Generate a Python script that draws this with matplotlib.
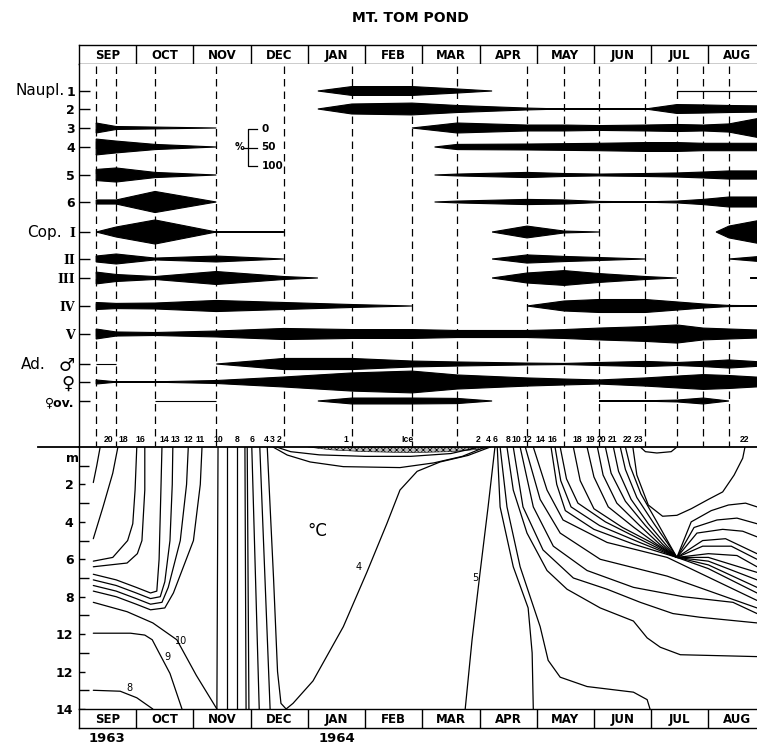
import numpy as np
import matplotlib.pyplot as plt

plt.rcParams['font.family'] = ['DejaVu Sans']
plt.rcParams['hatch.linewidth'] = 0.5

nan = np.nan

months = ['SEP', 'OCT', 'NOV', 'DEC', 'JAN', 'FEB', 'MAR', 'APR', 'MAY', 'JUN', 'JUL', 'AUG']

# sampling dates in months after 1 Sep 1963 (last one is past the right edge)
dates = [0.30, 0.65, 1.33, 2.40, 3.58, 4.77, 5.82, 6.61, 7.83, 8.48, 9.09,
         9.90, 10.45, 10.91, 11.36, 12.10]

# % of each stage per date, nan = absent, 0 = only traces
naupl1 = [nan, nan, nan, nan, nan, 24, 24, 11, nan, nan, nan, nan, 0, 0, 0, 0]
naupl2 = [nan, nan, nan, nan, nan, 27, 32, 19, 5, 0, 0, 0, 24, 22, 19, 16]
naupl3 = [27, 8, 5, 0, nan, nan, 0, 27, 16, 16, 13, 16, 19, 16, 22, 65]
naupl4 = [43, 32, 14, 0, nan, nan, nan, 14, 16, 18, 20, 24, 24, 20, 20, 20]
naupl5 = [30, 38, 14, 0, nan, nan, nan, 5, 14, 8, 5, 8, 11, 16, 22, 22]
naupl6 = [11, 11, 57, 0, nan, nan, nan, 5, 14, 11, 3, 1, 5, 14, 27, 27]
cop1 = [0, 27, 65, 0, 0, nan, nan, nan, 32, 5, 0, nan, nan, nan, 32, 75]
cop2 = [16, 27, 5, 16, 0, nan, nan, nan, 22, 14, 8, 0, nan, nan, 0, 19]
cop3 = [32, 19, 8, 35, 8, nan, nan, nan, 27, 40, 24, 8, 0, nan, nan, 3]
cop4 = [19, 14, 16, 30, 19, 8, 0, nan, 0, 27, 35, 35, 22, 11, 3, 1]
cop5 = [27, 11, 8, 16, 30, 24, 24, 19, 19, 24, 32, 40, 49, 32, 27, 19]
males = [0, 0, nan, 0, 30, 30, 16, 11, 5, 3, 8, 14, 8, 14, 22, 8]
females = [11, 1, 1, 8, 27, 49, 59, 38, 22, 16, 11, 22, 32, 40, 35, 22]
fem_ov = [nan, nan, 0, 0, nan, 16, 16, 14, nan, nan, 0, 1, 5, 16, 0, nan]

stages = [naupl1, naupl2, naupl3, naupl4, naupl5, naupl6, cop1, cop2, cop3,
          cop4, cop5, males, females, fem_ov]
stage_labels = ['1', '2', '3', '4', '5', '6', 'I', 'II', 'III', 'IV', 'V',
                '♂', '♀', '♀ov.']

# isotherms: (label, months, depth in m)
isotherms = [
    (20, [0.25, 0.31, 0.37], [1.9, 1.0, 0.0]),
    (18, [0.25, 0.42, 0.59, 0.68], [4.9, 3.2, 1.4, 0.0]),
    (16, [0.25, 0.59, 0.85, 0.94, 0.98, 1.01], [6.1, 5.9, 5.0, 4.1, 2.3, 0.0]),
    (14, [0.25, 0.84, 1.02, 1.10, 1.15, 1.15], [6.4, 6.2, 5.7, 5.0, 2.3, 0.0]),
    (13, [0.25, 0.65, 1.00, 1.25, 1.36, 1.40, 1.43, 1.45],
     [6.8, 7.1, 7.5, 7.8, 7.7, 6.0, 2.5, 0.0]),
    (12, [0.25, 0.65, 1.00, 1.25, 1.42, 1.50, 1.59, 1.63, 1.64],
     [7.1, 7.4, 7.8, 8.1, 8.0, 7.2, 5.0, 2.0, 0.0]),
    (11, [0.25, 0.65, 1.00, 1.25, 1.45, 1.56, 1.77, 1.88, 1.91],
     [7.4, 7.7, 8.1, 8.4, 8.3, 7.5, 5.0, 2.0, 0.0]),
    (11, [0.25, 0.65, 1.00, 1.25, 1.50, 1.65, 2.00, 2.12, 2.15],
     [7.7, 8.0, 8.4, 8.7, 8.6, 7.8, 5.0, 2.0, 0.0]),
    (10, [0.25, 0.84, 1.29, 1.71, 2.05, 2.41], [8.3, 8.8, 9.4, 10.3, 12.2, 14.0]),
    (9, [0.25, 0.90, 1.15, 1.28, 1.40, 1.59, 1.80],
     [9.95, 9.95, 10.05, 10.3, 11.0, 12.1, 14.0]),
    (8, [0.25, 0.72, 1.01, 1.29], [13.0, 13.05, 13.4, 14.0]),
    (10, [2.43, 2.41], [0.0, 14.0]),
    (9, [2.59, 2.59], [0.0, 14.0]),
    (8, [2.76, 2.76], [0.0, 14.0]),
    (7, [2.90, 2.92], [0.0, 14.0]),
    (7, [2.94, 2.97], [0.0, 14.0]),
    (6, [3.02, 3.15], [0.0, 14.0]),
    (5, [3.16, 3.34], [0.0, 14.0]),
    (4, [3.29, 3.40, 3.47, 3.53, 3.62, 3.74, 4.09, 4.62, 5.03, 5.38, 5.61,
         5.91, 6.31, 6.80, 7.19],
     [0.0, 7.0, 12.0, 13.7, 14.0, 13.7, 12.5, 9.6, 6.7, 4.1, 2.3, 1.3, 0.8,
      0.45, 0.0]),
    (3, [3.39, 3.64, 4.04, 4.62, 5.61, 6.20, 6.70, 7.10],
     [0.0, 0.43, 0.8, 1.05, 1.1, 0.85, 0.5, 0.0]),
    (2, [3.45, 3.70, 4.20, 5.00, 5.80, 6.50, 7.00],
     [0.0, 0.25, 0.42, 0.5, 0.5, 0.35, 0.0]),
    (5, [7.27, 7.15, 7.01, 6.87, 6.75], [0.0, 3.2, 6.7, 10.3, 14.0]),
    (6, [7.31, 7.36, 7.59, 7.85, 7.92, 7.94], [0.0, 3.2, 6.4, 8.6, 11.0, 14.0]),
    (8, [7.36, 7.48, 7.71, 8.06, 8.20, 8.41, 8.88, 9.69, 9.93, 9.98],
     [0.0, 3.2, 6.4, 9.6, 11.4, 12.3, 12.8, 13.1, 13.5, 14.0]),
    (10, [7.48, 7.59, 7.83, 8.18, 8.53, 9.11, 9.69, 9.93, 10.16, 10.51, 11.85],
     [0.0, 2.3, 4.6, 6.6, 7.6, 8.6, 9.3, 10.2, 10.7, 11.1, 11.2]),
    (12, [7.59, 7.76, 8.11, 8.64, 9.23, 9.81, 10.38, 10.86, 11.85],
     [0.0, 3.2, 5.5, 7.0, 7.6, 8.3, 8.9, 9.1, 9.4]),
    (14, [7.71, 7.94, 8.29, 8.88, 9.69, 10.56, 11.43, 11.85],
     [0.0, 3.2, 5.3, 6.6, 7.5, 8.0, 8.3, 8.9]),
    (15, [7.80, 8.06, 8.41, 9.11, 10.28, 11.85], [0.0, 2.8, 4.6, 6.0, 6.9, 8.6]),
    (16, [7.94, 8.18, 8.46, 9.23, 10.28, 11.85], [0.0, 2.3, 3.9, 5.1, 5.9, 8.2]),
    (17, [8.25, 8.35, 8.50, 9.00, 9.70, 10.45, 11.00, 11.85],
     [0.0, 2.0, 3.4, 4.4, 5.2, 5.9, 6.5, 7.8]),
    (17, [8.32, 8.42, 8.60, 9.10, 9.80, 10.45, 11.00, 11.85],
     [0.0, 1.8, 3.2, 4.2, 5.1, 5.9, 6.3, 7.5]),
    (18, [8.41, 8.52, 8.72, 9.20, 9.85, 10.45, 11.00, 11.85],
     [0.0, 1.7, 3.0, 4.0, 5.0, 5.9, 6.1, 7.1]),
    (18, [8.64, 8.76, 9.00, 9.50, 10.00, 10.45, 11.00, 11.85],
     [0.0, 1.8, 3.3, 4.3, 5.1, 5.9, 5.9, 6.7]),
    (19, [8.88, 9.00, 9.25, 9.70, 10.10, 10.45, 11.00, 11.50, 11.85],
     [0.0, 1.6, 3.2, 4.3, 5.2, 5.9, 5.7, 5.8, 6.4]),
    (20, [9.06, 9.16, 9.40, 9.80, 10.15, 10.45, 10.90, 11.40, 11.85],
     [0.0, 1.5, 3.0, 4.2, 5.2, 5.9, 5.3, 5.3, 6.0]),
    (20, [9.20, 9.30, 9.55, 9.90, 10.20, 10.45, 10.90, 11.30, 11.85],
     [0.0, 1.4, 2.9, 4.2, 5.2, 5.9, 5.0, 4.9, 5.7]),
    (21, [9.34, 9.43, 9.65, 9.95, 10.25, 10.45, 10.80, 11.25, 11.60, 11.85],
     [0.0, 1.3, 2.8, 4.1, 5.2, 5.9, 4.6, 4.4, 4.5, 4.8]),
    (21, [9.46, 9.55, 9.75, 10.05, 10.30, 10.45, 10.75, 11.15, 11.50, 11.85],
     [0.0, 1.2, 2.7, 4.1, 5.2, 5.9, 4.3, 3.9, 3.8, 4.1]),
    (22, [9.55, 9.63, 9.82, 10.10, 10.32, 10.45, 10.70, 11.05, 11.35, 11.65, 11.85],
     [0.0, 1.0, 2.5, 4.0, 5.2, 5.9, 4.0, 3.4, 3.1, 3.0, 3.2]),
    (22, [9.68, 9.75, 9.95, 10.20, 10.45, 10.70, 11.00, 11.25, 11.45, 11.60, 11.64],
     [0.0, 1.5, 3.1, 3.7, 3.65, 3.3, 2.8, 2.4, 1.5, 0.6, 0.0]),
    (23, [9.81, 9.90, 10.10, 10.35, 10.45], [0.0, 0.25, 0.32, 0.25, 0.0]),
]

# ice cover, months and thickness in m
ice_x = [4.0, 4.4, 5.0, 5.8, 6.5, 7.0, 7.2]
ice_d = [0.0, 0.15, 0.25, 0.3, 0.25, 0.12, 0.0]

# temperatures where isotherms meet the surface
surf_labels = ['20', '18', '16', '14', '13', '12', '11', '10', '8', '6', '4', '3',
               '2', '1', 'Ice', '2', '4', '6', '8', '10', '12', '14', '16', '18',
               '19', '20', '21', '22', '23', '22']
surf_x = [0.51, 0.77, 1.07, 1.49, 1.68, 1.91, 2.12, 2.43, 2.76, 3.02, 3.27,
          3.38, 3.49, 4.67, 5.75, 6.98, 7.15, 7.27, 7.50, 7.64, 7.83, 8.06,
          8.27, 8.71, 8.93, 9.14, 9.32, 9.58, 9.78, 11.64]

W, H = 757, 747
XMAX = 11.85
SCALE = 0.185   # half width (px) per percent


def box(x0, y0, x1, y1):
    return [x0 / W, 1 - y1 / H, (x1 - x0) / W, (y1 - y0) / H]


def kite(ax, y0, vals):
    pieces, cur = [], []
    for i, v in enumerate(vals):
        if np.isnan(v):
            if cur:
                if vals[i - 1] > 0:
                    cur.append(((dates[i - 1] + dates[i]) / 2, 0))
                pieces.append(cur)
                cur = []
            continue
        if not cur and i > 0 and v > 0:
            cur.append(((dates[i - 1] + dates[i]) / 2, 0))
        cur.append((dates[i], v))
    if cur:
        pieces.append(cur)
    for p in pieces:
        xs = np.array([q[0] for q in p])
        hs = np.array([q[1] for q in p]) * SCALE
        ax.fill(np.r_[xs, xs[::-1]], np.r_[y0 - hs, (y0 + hs)[::-1]],
                facecolor='black', edgecolor='black', lw=0.8, zorder=3)


def month_strip(ax):
    ax.set_xlim(0, XMAX)
    ax.set_ylim(0, 1)
    ax.set_xticks([])
    ax.set_yticks([])
    ax.spines['right'].set_visible(False)
    for s in ['left', 'top', 'bottom']:
        ax.spines[s].set_linewidth(1.0)
    for i, m in enumerate(months):
        if i > 0:
            ax.axvline(i, color='black', lw=1.0)
        ax.text(i + 0.5, 0.45, m, ha='center', va='center', fontsize=8.5,
                fontweight='bold')


fig = plt.figure(figsize=(W / 100, H / 100), dpi=100)

ax_top = fig.add_axes(box(79, 45, 757, 64))
ax_up = fig.add_axes(box(79, 64, 757, 447))
ax_low = fig.add_axes(box(79, 447, 757, 709))
ax_bot = fig.add_axes(box(79, 709, 757, 728))

month_strip(ax_top)
month_strip(ax_bot)

# ---- upper panel: kite diagrams
row_y = [91, 109, 128, 147, 175, 202, 232, 259, 278, 306, 334, 364, 382, 401]
ax_up.set_xlim(0, XMAX)
ax_up.set_ylim(447, 64)
ax_up.vlines(dates[:15], 66, 446, colors='black', linestyles=(0, (6, 4)),
             lw=0.9, zorder=1)
for y0, vals in zip(row_y, stages):
    kite(ax_up, y0, vals)

for s in ['top', 'right', 'bottom']:
    ax_up.spines[s].set_visible(False)
ax_up.spines['left'].set_linewidth(1.0)
ax_up.set_xticks([])
ax_up.set_yticks(row_y)
ax_up.set_yticklabels(stage_labels, fontsize=9, fontweight='bold')
ax_up.tick_params(axis='y', direction='in', length=8, width=1, pad=3)
for lab in ax_up.get_yticklabels():
    t = lab.get_text()
    if t in ['I', 'II', 'III', 'IV', 'V']:
        lab.set_fontfamily('DejaVu Serif')
    elif t in ['♂', '♀']:
        lab.set_fontsize(13)

fig.text(65 / W, 1 - 91 / H, 'Naupl.', ha='right', va='center', fontsize=11)
fig.text(62 / W, 1 - 232 / H, 'Cop.', ha='right', va='center', fontsize=11)
fig.text(46 / W, 1 - 364 / H, 'Ad.', ha='right', va='center', fontsize=11)

# % scale
sx0, sx1 = 2.955, 3.11
sy0 = 129
ax_up.plot([sx1, sx0, sx0, sx1], [sy0, sy0, sy0 + 200 * SCALE, sy0 + 200 * SCALE],
           color='black', lw=0.9)
ax_up.plot([2.88, sx1], [sy0 + 100 * SCALE] * 2, color='black', lw=0.9)
for p in [0, 50, 100]:
    ax_up.text(3.19, sy0 + 2 * p * SCALE, str(p), ha='left', va='center',
               fontsize=7.5, fontweight='bold')
ax_up.text(2.80, sy0 + 100 * SCALE, '%', ha='center', va='center', fontsize=7,
           fontweight='bold')

for lab, x in zip(surf_labels, surf_x):
    ax_up.text(x, 440, lab, ha='center', va='center', fontsize=6.2,
               fontweight='bold', family=['Liberation Sans', 'DejaVu Sans'])

# ---- lower panel: isotherms
ax_low.set_xlim(0, XMAX)
ax_low.set_ylim(14, 0)
for _, xs, ds in isotherms:
    ax_low.plot(xs, ds, color='black', lw=0.9, solid_capstyle='round')
ax_low.fill_between(ice_x, 0, ice_d, facecolor='#bbbbbb', edgecolor='black',
                    hatch='xxxxx', lw=0.4)

ax_low.text(1.78, 10.35, '10', fontsize=7, ha='center', va='center')
ax_low.text(1.54, 11.2, '9', fontsize=7, ha='center', va='center')
ax_low.text(0.89, 12.9, '8', fontsize=7, ha='center', va='center')
ax_low.text(4.88, 6.4, '4', fontsize=7, ha='center', va='center')
ax_low.text(6.92, 7.0, '5', fontsize=7, ha='center', va='center')
ax_low.text(4.16, 4.5, '°C', fontsize=12, ha='center', va='center')

for s in ['right', 'bottom']:
    ax_low.spines[s].set_visible(False)
ax_low.spines['left'].set_linewidth(1.0)
ax_low.spines['top'].set_linewidth(1.3)
ax_low.plot([-0.06, 0], [1, 1], transform=ax_low.transAxes, clip_on=False,
            color='black', lw=1.3)
ax_low.set_xticks([])
ax_low.set_yticks([2, 4, 6, 8, 10, 12, 14])
ax_low.set_yticklabels(['2', '4', '6', '8', '12', '12', '14'], fontsize=9,
                       fontweight='bold')
ax_low.set_yticks([1, 3, 5, 7, 9, 11, 13], minor=True)
ax_low.tick_params(axis='y', which='major', direction='in', length=4, width=1, pad=4)
ax_low.tick_params(axis='y', which='minor', direction='in', length=7, width=1)
ax_low.text(-0.12, 0.6, 'm', ha='center', va='center', fontsize=9,
            fontweight='bold')

fig.text(410 / W, 1 - 18 / H, 'MT. TOM POND', ha='center', va='center',
         fontsize=10, fontweight='bold')
fig.text(107 / W, 1 - 739 / H, '1963', ha='center', va='center', fontsize=9.5,
         fontweight='bold')
fig.text(337 / W, 1 - 739 / H, '1964', ha='center', va='center', fontsize=9.5,
         fontweight='bold')

fig.savefig('out.png', dpi=100)
